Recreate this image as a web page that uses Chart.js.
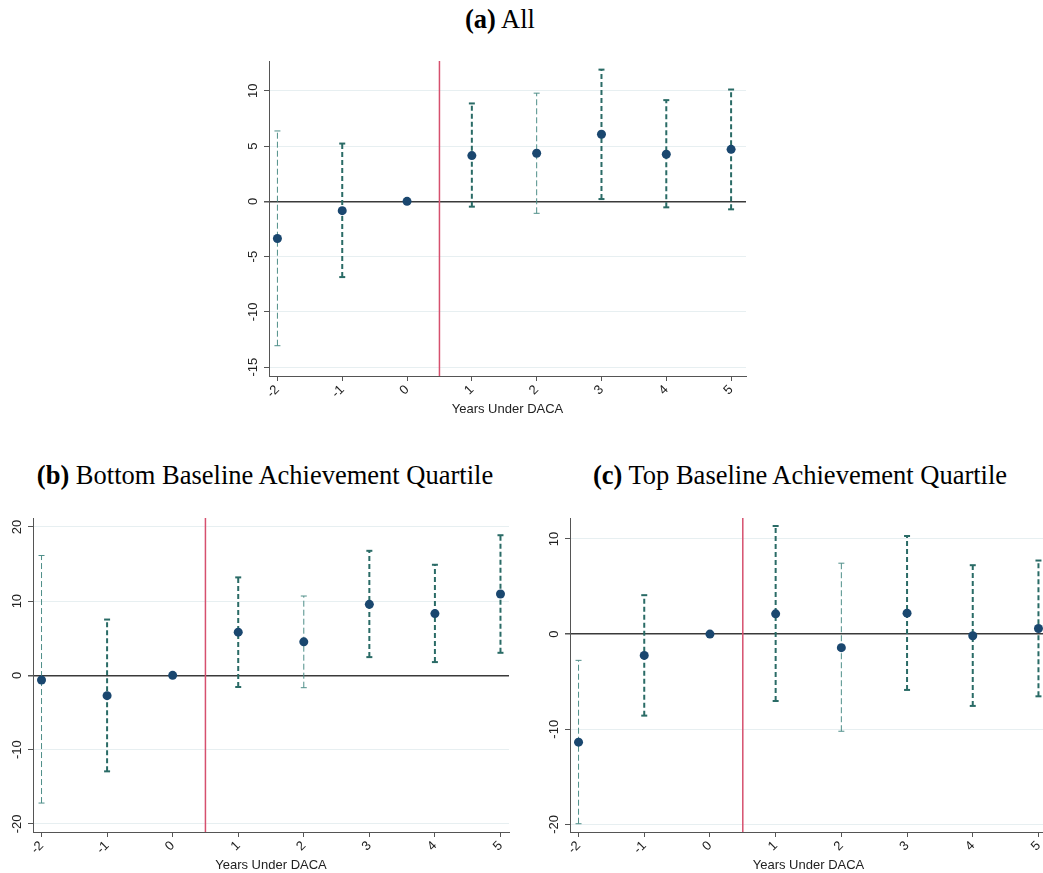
<!DOCTYPE html>
<html>
<head>
<meta charset="utf-8">
<script src="https://cdn.jsdelivr.net/npm/chart.js@4.4.1/dist/chart.umd.min.js"></script>
<style>
  body { margin:0; width:1043px; height:873px; overflow:hidden; background:#fff; position:relative; }
  .ttl { position:absolute; font-family:"Liberation Serif","Times New Roman",serif; font-size:26.5px; line-height:30px; color:#000; white-space:nowrap; transform:translateX(-50%); }
  .box { position:absolute; }
</style>
</head>
<body>
<div class="ttl" style="left:500px;top:4px"><b>(a)</b> All</div>
<div class="ttl" style="left:265px;top:460px"><b>(b)</b> Bottom Baseline Achievement Quartile</div>
<div class="ttl" style="left:800px;top:460px"><b>(c)</b> Top Baseline Achievement Quartile</div>
<div class="box" style="left:236px;top:55px;width:516px;height:366px"><canvas id="chartA"></canvas></div>
<div class="box" style="left:0px;top:512px;width:515px;height:365px"><canvas id="chartB"></canvas></div>
<div class="box" style="left:537px;top:512px;width:516px;height:365px"><canvas id="chartC"></canvas></div>
<script>
// years relative to DACA
var years = [-2, -1, 0, 1, 2, 3, 4, 5];
var treatStart = 0.5;

// (a) All
var allEst = [-3.36, -0.84, 0, 4.14, 4.35, 6.07, 4.26, 4.71];
var allLo  = [-13.06, -6.85, null, -0.48, -1.08, 0.21, -0.54, -0.72];
var allHi  = [6.37, 5.23, null, 8.86, 9.79, 11.92, 9.16, 10.12];

// (b) Bottom quartile
var botEst = [-0.63, -2.73, 0, 5.82, 4.52, 9.57, 8.32, 10.96];
var botLo  = [-17.2, -12.93, null, -1.57, -1.66, 2.46, 1.79, 3.04];
var botHi  = [16.15, 7.52, null, 13.2, 10.69, 16.78, 14.9, 18.88];

// (c) Top quartile
var topEst = [-11.36, -2.24, 0, 2.13, -1.43, 2.2, -0.17, 0.59];
var topLo  = [-19.93, -8.57, null, -7.03, -10.21, -5.87, -7.55, -6.54];
var topHi  = [-2.76, 4.09, null, 11.36, 7.45, 10.31, 7.24, 7.73];

// thin (light) vs thick (dark) bars
var thinBar = [true, false, false, false, true, false, false, false];

const refLine = {
  id: 'refLine',
  beforeDatasetsDraw(chart) {
    const {ctx, chartArea, scales: {x}} = chart;
    const px = x.getPixelForValue(treatStart);
    ctx.save();
    ctx.strokeStyle = '#d6506e';
    ctx.lineWidth = 1.5;
    ctx.beginPath();
    ctx.moveTo(px, chartArea.top);
    ctx.lineTo(px, chartArea.bottom);
    ctx.stroke();
    ctx.restore();
  }
};

function makePanel(id, est, lo, hi, yMin, yMax, xMax, step) {
  var sets = [{
    data: years.map((x, i) => ({x: x, y: est[i]})),
    showLine: false,
    pointRadius: 4.5,
    pointBackgroundColor: '#1a476f',
    pointBorderColor: '#1a476f',
    pointBorderWidth: 0,
  }];
  years.forEach((x, i) => {
    if (lo[i] === null) return;
    var col = thinBar[i] ? '#4f8f89' : '#2a6b66';
    var w = thinBar[i] ? 1 : 2;
    sets.push({
      data: [{x: x, y: lo[i]}, {x: x, y: hi[i]}],
      showLine: true,
      borderColor: col,
      borderWidth: w,
      borderDash: thinBar[i] ? [6, 3] : [5, 3],
      pointStyle: 'line',
      pointRadius: 3,
      pointBorderColor: col,
      pointBorderWidth: w,
    });
  });

  return new Chart(document.getElementById(id), {
    type: 'scatter',
    data: {datasets: sets},
    plugins: [refLine],
    options: {
      responsive: true,
      maintainAspectRatio: false,
      animation: false,
      layout: {padding: {top: 5, right: 4, left: 0, bottom: 0}},
      plugins: {legend: {display: false}, tooltip: {enabled: false}},
      scales: {
        x: {
          type: 'linear',
          min: -2.13, max: xMax,
          afterFit: s => { s.height = 45; },
          ticks: {
            stepSize: 1, includeBounds: false,
            minRotation: 45, maxRotation: 45,
            color: '#222', padding: 1,
            font: {family: 'Liberation Sans', size: 13},
            callback: v => String(v),
          },
          grid: {drawOnChartArea: false, drawTicks: true, tickLength: 5, tickColor: '#555'},
          border: {color: '#555', width: 1},
          title: {display: true, text: 'Years Under DACA', color: '#222',
                  font: {family: 'Liberation Sans', size: 13}, padding: {top: 0, bottom: 4}},
        },
        y: {
          min: yMin, max: yMax,
          afterFit: s => { s.width = 33; s.paddingTop = 0; },
          ticks: {
            stepSize: step, includeBounds: false,
            minRotation: 90, maxRotation: 90,
            crossAlign: 'center',
            color: '#222', padding: 1,
            font: {family: 'Liberation Sans', size: 13},
            callback: v => String(v),
          },
          grid: {
            color: c => (c.tick && c.tick.value === 0) ? '#3a3a3a' : '#e7eff1',
            lineWidth: c => (c.tick && c.tick.value === 0) ? 1.5 : 1,
            tickLength: 5, tickColor: '#555',
          },
          border: {color: '#555', width: 1},
        }
      }
    }
  });
}

makePanel('chartA', allEst, allLo, allHi, -15.8, 12.7, 5.23, 5);
makePanel('chartB', botEst, botLo, botHi, -21.1, 21.2, 5.13, 10);
makePanel('chartC', topEst, topLo, topHi, -20.8, 12.2, 5.13, 10);
</script>
</body>
</html>
